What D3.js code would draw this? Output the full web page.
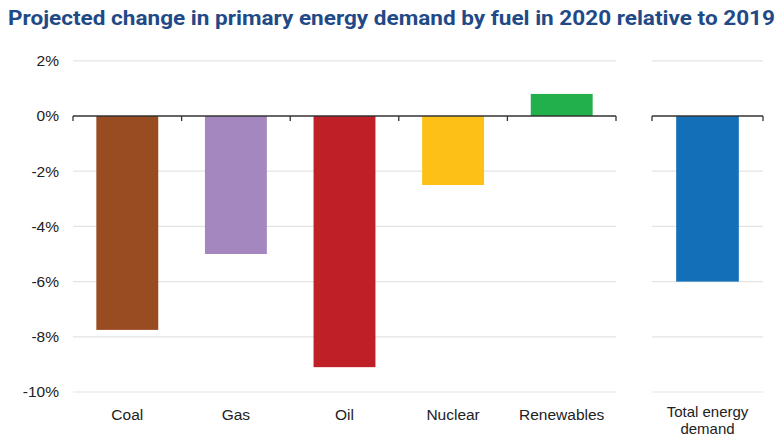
<!DOCTYPE html>
<html lang="en">
<head>
<meta charset="UTF-8">
<title>Primary energy demand change 2020</title>
<script src="https://d3js.org/d3.v7.min.js"></script>
<style>
  body { margin: 0; background: #fff; }
  text { font-family: 'Liberation Sans', Arial, sans-serif; fill: #222; }
</style>
</head>
<body>
<div id="chart"></div>
<script>
// data
var fuels = ["Coal", "Gas", "Oil", "Nuclear", "Renewables"];
var fuelValues = [-7.75, -5.0, -9.1, -2.5, 0.8];
var fuelColors = ["#994b22", "#a487bf", "#bf1f27", "#fcc016", "#22b04c"];
var totalLabel = ["Total energy", "demand"];
var totalValue = [-6.0];
var totalColor = "#136fb8";
var yTicks = [2, 0, -2, -4, -6, -8, -10];

var W = 781, H = 436;
var svg = d3.select("#chart").append("svg")
  .attr("width", W).attr("height", H);

svg.append("text")
  .attr("x", 8).attr("y", 25)
  .attr("textLength", 767)
  .attr("lengthAdjust", "spacingAndGlyphs")
  .style("font-family", "Roboto, sans-serif")
  .style("font-weight", "bold")
  .style("font-size", "20px")
  .style("fill", "#1f4a87")
  .text("Projected change in primary energy demand by fuel in 2020 relative to 2019");

var y = d3.scaleLinear().domain([-10, 2]).range([392, 60.8]);

var xLeft = d3.scaleBand().domain(fuels).range([73, 616]).paddingInner(0.43).paddingOuter(0.215);
var xRight = d3.scaleBand().domain(["total"]).range([652, 763]).paddingInner(0.43).paddingOuter(0.22);

// gridlines
function grid(x0, x1) {
  svg.append("g").selectAll("line")
    .data(yTicks.filter(function(d) { return d !== 0; }))
    .enter().append("line")
    .attr("x1", x0).attr("x2", x1)
    .attr("y1", function(d) { return y(d); })
    .attr("y2", function(d) { return y(d); })
    .attr("stroke", "#e3e3e3").attr("stroke-width", 1.2);
}
grid(73, 616);
grid(652, 763);

// y tick labels
svg.append("g").selectAll("text")
  .data(yTicks)
  .enter().append("text")
  .attr("x", 59)
  .attr("y", function(d) { return y(d); })
  .attr("dy", "0.35em")
  .attr("text-anchor", "end")
  .style("font-size", "15.5px")
  .text(function(d) { return d + "%"; });

// bars
svg.append("g").selectAll("rect")
  .data(fuels)
  .enter().append("rect")
  .attr("x", function(d) { return xLeft(d); })
  .attr("width", xLeft.bandwidth())
  .attr("y", function(d, i) { return y(Math.max(0, fuelValues[i])); })
  .attr("height", function(d, i) { return Math.abs(y(fuelValues[i]) - y(0)); })
  .attr("fill", function(d, i) { return fuelColors[i]; });

svg.append("g").selectAll("rect")
  .data(totalValue)
  .enter().append("rect")
  .attr("x", xRight("total"))
  .attr("width", xRight.bandwidth())
  .attr("y", function(d) { return y(Math.max(0, d)); })
  .attr("height", function(d) { return Math.abs(y(d) - y(0)); })
  .attr("fill", totalColor);

// zero axis with tick marks between categories
function zeroAxis(scale) {
  var step = scale.step();
  var r = scale.range();
  var ticks = [r[0]];
  scale.domain().forEach(function(d) {
    ticks.push(scale(d) + scale.bandwidth() / 2 + step / 2);
  });
  ticks[ticks.length - 1] = r[1];
  var g = svg.append("g");
  g.append("line")
    .attr("x1", r[0]).attr("x2", r[1])
    .attr("y1", y(0)).attr("y2", y(0))
    .attr("stroke", "#333").attr("stroke-width", 1.3);
  g.selectAll(".tk").data(ticks).enter().append("line")
    .attr("x1", function(d) { return d; }).attr("x2", function(d) { return d; })
    .attr("y1", y(0)).attr("y2", y(0) + 5)
    .attr("stroke", "#333").attr("stroke-width", 1.3);
}
zeroAxis(xLeft);
zeroAxis(xRight);

// category labels
svg.append("g").selectAll("text")
  .data(fuels)
  .enter().append("text")
  .attr("x", function(d) { return xLeft(d) + xLeft.bandwidth() / 2; })
  .attr("y", 420)
  .attr("text-anchor", "middle")
  .style("font-size", "15.5px")
  .text(function(d) { return d; });

svg.append("g").selectAll("text")
  .data(totalLabel)
  .enter().append("text")
  .attr("x", xRight("total") + xRight.bandwidth() / 2)
  .attr("y", function(d, i) { return 417 + i * 17; })
  .attr("text-anchor", "middle")
  .style("font-size", "15px")
  .text(function(d) { return d; });
</script>
</body>
</html>
